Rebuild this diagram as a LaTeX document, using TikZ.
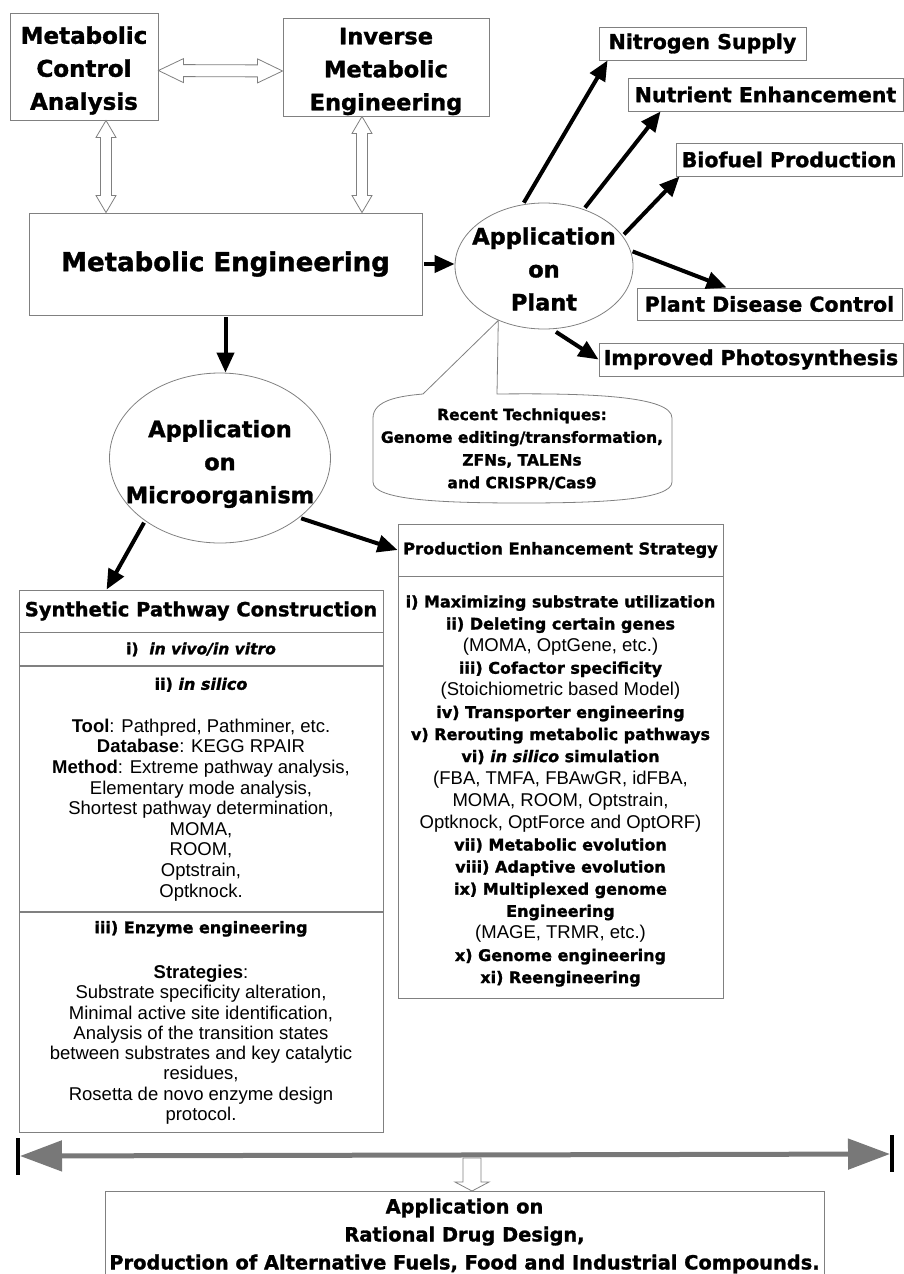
\documentclass[tikz,border=0pt]{standalone}
\usepackage{fontspec}
\setmainfont{Liberation Sans}
\newfontfamily\blk{DejaVu Sans Bold}[ItalicFont={DejaVu Sans Bold Oblique}, FakeBold=1.4]
\usepackage{tikz}
\usetikzlibrary{arrows.meta,shapes.geometric,positioning,calc}

\definecolor{boxgray}{gray}{0.5}
\definecolor{bargray}{gray}{0.47}

\newcommand{\heavyf}[2]{\blk\fontsize{#1}{#2}\selectfont}
\newcommand{\plainf}[2]{\fontsize{#1}{#2}\selectfont}

\tikzset{
	box/.style={draw=boxgray, line width=0.9pt, inner sep=0pt, align=center},
	blob/.style={ellipse, draw=boxgray, line width=0.8pt, inner sep=0pt},
	arr/.style={line width=4pt, -{Triangle[length=20pt,width=17pt]}, shorten <=2pt},
	hollow/.style={draw=boxgray, line width=0.8pt, fill=white},
	bararr/.style={line width=5pt, draw=bargray, {Triangle[length=42pt,width=30pt,fill=bargray]}-{Triangle[length=42pt,width=30pt,fill=bargray]}, shorten <=2pt, shorten >=2pt}
}

% hollow double arrow: ends, head length, head half width, shaft half width
\newcommand{\dblhollow}[5]{%
	\draw[hollow] (#1) -- ($($(#1)!#3pt!(#2)$)!#4pt!90:(#2)$) -- ($($(#1)!#3pt!(#2)$)!#5pt!90:(#2)$)
		-- ($($(#2)!#3pt!(#1)$)!#5pt!-90:(#1)$) -- ($($(#2)!#3pt!(#1)$)!#4pt!-90:(#1)$) -- (#2)
		-- ($($(#2)!#3pt!(#1)$)!#4pt!90:(#1)$) -- ($($(#2)!#3pt!(#1)$)!#5pt!90:(#1)$)
		-- ($($(#1)!#3pt!(#2)$)!#5pt!-90:(#2)$) -- ($($(#1)!#3pt!(#2)$)!#4pt!-90:(#2)$) -- cycle;}

\begin{document}
\begin{tikzpicture}[x=1pt,y=-1pt]
	\useasboundingbox (0,0) rectangle (904,1274);
	\clip (0,0) rectangle (904,1274);

	% top part
	\node[box, minimum width=148pt, minimum height=107pt] (mca) at (84,66.5) {};
	\node[font=\heavyf{23}{33}, align=center] (mcatext) at ([yshift=-4pt]mca.center) {Metabolic\\Control\\Analysis};
	\node[box, minimum width=206pt, minimum height=98pt] (ime) at (386,67) {};
	\node[font=\heavyf{22.5}{33}, align=center] (imetext) at ([yshift=-4.5pt]ime.center) {Inverse\\Metabolic\\Engineering};
	\node[box, minimum width=393pt, minimum height=102pt, font=\heavyf{26}{30}] (me) at (225.5,264) {Metabolic Engineering};

	\dblhollow{[yshift=-4pt]mca.east}{[yshift=-4pt]ime.west}{25}{12}{6}
	\coordinate (v1a) at ([xshift=22pt]mca.south);
	\coordinate (v1b) at (v1a |- me.north);
	\coordinate (v2a) at ([xshift=-24pt]ime.south);
	\coordinate (v2b) at (v2a |- me.north);
	\dblhollow{v1a}{v1b}{17}{10}{5.5}
	\dblhollow{v2a}{v2b}{17}{10}{5.5}

	% plant side
	\node[blob, minimum width=178pt, minimum height=126pt] (plant) at (544,266) {};
	\node[font=\heavyf{22.5}{33}, align=center] (planttext) at ([yshift=-3pt]plant.center) {Application\\on\\Plant};
	\node[box, minimum width=207pt, minimum height=33pt, font=\heavyf{20.5}{24}] (nitro) at (702.5,43.5) {Nitrogen Supply};
	\node[box, minimum width=275pt, minimum height=33pt, font=\heavyf{20.5}{24}] (nutr) at (765.5,94.5) {Nutrient Enhancement};
	\node[box, minimum width=226pt, minimum height=33pt, font=\heavyf{20.5}{24}] (bio) at (789,159.5) {Biofuel Production};
	\node[box, minimum width=265pt, minimum height=32pt, font=\heavyf{20.5}{24}] (dis) at (769.5,304) {Plant Disease Control};
	\node[box, minimum width=304pt, minimum height=33pt, font=\heavyf{20.5}{24}] (photo) at (751,359.5) {Improved Photosynthesis};

	\draw[arr] (me.east) -- (me.east -| plant.west);
	\draw[arr] (plant.109) -- ([xshift=9pt]nitro.south west);
	\draw[arr] (plant.55) -- ([xshift=33pt]nutr.south west);
	\draw[arr] (plant.21) -- ([xshift=4pt]bio.south west);
	\draw[arr] (plant.10) -- ([xshift=90pt]dis.north west);
	\draw[arr, shorten <=5pt] (plant.277) -- (photo.west);

	% callout
	\node[font=\heavyf{15.5}{22.7}, align=center] (recent) at (522,449) {Recent Techniques:\\Genome editing/transformation,\\ZFNs, TALENs\\and CRISPR/Cas9};
	\draw[draw=boxgray, line width=0.8pt] (plant.230) -- (497,394) .. controls (590,393) and (672,396) .. (672,418) -- (672,482)
		.. controls (672,500) and (600,503) .. (522,503) .. controls (440,503) and (373,500) .. (373,482) -- (373,418)
		.. controls (373,400) and (400,396) .. (423,394) -- cycle;

	% microorganism side
	\node[blob, minimum width=221pt, minimum height=170pt] (micro) at (220,458) {};
	\node[font=\heavyf{22.5}{33}, align=center] (microtext) at ([yshift=-6pt]micro.center) {Application\\on\\Microorganism};
	\draw[arr] (me.south) -- (me.south |- micro.north);

	\node[box, minimum width=364pt, minimum height=42pt, font=\heavyf{19.5}{24}] (synhead) at (201,611) {Synthetic Pathway Construction};
	\node[box, minimum width=364pt, minimum height=33pt, font=\heavyf{15.5}{20}, below=0pt of synhead] (syn1) {i)~~\itshape in vivo/in vitro};
	\node[box, minimum width=364pt, minimum height=245pt, font=\plainf{18.5}{20.6}, below=0pt of syn1] (syn2) {{\heavyf{16}{20.6}ii) \itshape in silico}\\[22pt]
		\textbf{Tool}: Pathpred, Pathminer, etc.\\
		\textbf{Database}: KEGG RPAIR\\
		\textbf{Method}: Extreme pathway analysis,\\
		Elementary mode analysis,\\
		Shortest pathway determination,\\
		MOMA,\\
		ROOM,\\
		Optstrain,\\
		Optknock.};
	\node[box, minimum width=364pt, minimum height=220pt, font=\plainf{18.5}{20.3}, below=0pt of syn2] (syn3) {{\heavyf{16}{20.3}iii) Enzyme engineering}\\[25pt]
		\textbf{Strategies}:\\
		Substrate specificity alteration,\\
		Minimal active site identification,\\
		Analysis of the transition states\\
		between substrates and key catalytic\\
		residues,\\
		Rosetta de novo enzyme design\\
		protocol.};

	\node[box, minimum width=325pt, minimum height=52pt, font=\heavyf{16.2}{20}] (prodhead) at (560.5,550) {Production Enhancement Strategy};
	\node[box, minimum width=325pt, minimum height=422pt, below=0pt of prodhead] (prodbody) {};
	\node[font=\plainf{18.5}{22.1}, align=center] (prodtext) at ([yshift=-3pt]prodbody.center) {{\heavyf{16}{22.1}i) Maximizing substrate utilization}\\
		{\heavyf{16}{22.1}ii) Deleting certain genes}\\
		(MOMA, OptGene, etc.)\\
		{\heavyf{16}{22.1}iii) Cofactor specificity}\\
		(Stoichiometric based Model)\\
		{\heavyf{16}{22.1}iv) Transporter engineering}\\
		{\heavyf{16}{22.1}v) Rerouting metabolic pathways}\\
		{\heavyf{16}{22.1}vi) {\itshape in silico} simulation}\\
		(FBA, TMFA, FBAwGR, idFBA,\\
		MOMA, ROOM, Optstrain,\\
		Optknock, OptForce and OptORF)\\
		{\heavyf{16}{22.1}vii) Metabolic evolution}\\
		{\heavyf{16}{22.1}viii) Adaptive evolution}\\
		{\heavyf{16}{22.1}ix) Multiplexed genome}\\
		{\heavyf{16}{22.1}Engineering}\\
		(MAGE, TRMR, etc.)\\
		{\heavyf{16}{22.1}x) Genome engineering}\\
		{\heavyf{16}{22.1}xi) Reengineering}};

	\draw[arr] (micro.220) -- ([xshift=88pt]synhead.north west);
	\draw[arr] (micro.323) -- (prodhead.west);

	% bottom
	\coordinate (lbar) at (18,1156);
	\coordinate (rbar) at (892,1154);
	\draw[line width=4pt] ($(lbar)+(0,-18)$) -- ($(lbar)+(0,19)$);
	\draw[line width=4pt] ($(rbar)+(0,-19)$) -- ($(rbar)+(0,18)$);
	\draw[bararr] (lbar) -- (rbar);

	\node[box, minimum width=719pt, minimum height=110pt] (appbox) at (464.5,1246) {};
	\node[font=\heavyf{19.4}{28}, align=center] (apptext) at (464.5,1236) {Application on\\Rational Drug Design,\\Production of Alternative Fuels, Food and Industrial Compounds.};
	\coordinate (dtip) at (472,1191);
	\draw[hollow] ($(dtip)+(-9,-33)$) -- ($(dtip)+(9,-33)$) -- ($(dtip)+(9,-9)$) -- ($(dtip)+(17,-9)$) -- (dtip)
		-- ($(dtip)+(-17,-9)$) -- ($(dtip)+(-9,-9)$) -- cycle;
\end{tikzpicture}
\end{document}
